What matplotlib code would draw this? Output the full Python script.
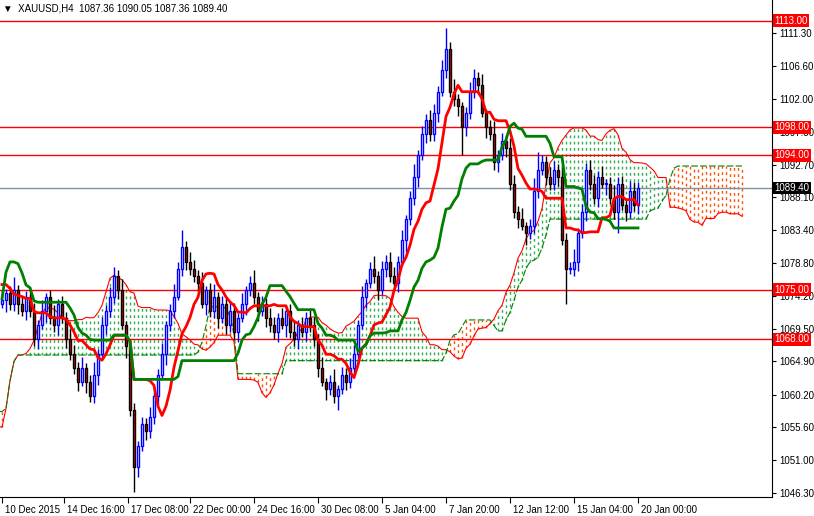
import matplotlib
matplotlib.use("Agg")
import matplotlib.pyplot as plt
import matplotlib.transforms as mt
import numpy as np
import pandas as pd

# 52 H4 closes before the visible window (feed the Ichimoku cloud only)
prior_closes = [1068,1066,1064,1062,1061,1063,1065,1064,1062,1060,1058,1057,1056,
1058,1060,1062,1061,1059,1057,1055,1053,1050,1048,
1047,1050,1055,1062,1070,1078,1083,1085,1082,1080,
1078,1076,1077,1075,1073,1074,1076,1078,1077,1075,
1076,1077,1078,1076,1075,1074,1073,1074,1073]
closes = [1073.5,1074.5,1073,1075,1073,1072,1074,1072,1068,1070,
1072,1074,1071,1070,1073,1071,1068,1066,1064,1062,
1064,1062,1060,1063,1066,1070,1072,1074,1077,1075,
1070,1067,1058,1050,1053,1056,1055,1057,1060,1063,
1066,1070,1072,1074,1078,1081,1079,1078,1077,1076,
1073,1075,1072,1074,1071,1073,1070,1072,1069,1071,
1073,1075,1076,1074,1072,1073,1071,1070,1069,1071,
1070,1072,1069,1068,1070,1069,1071,1070,1068,1064,
1062,1061,1062,1060,1061,1063,1062,1064,1066,1070,
1074,1076,1078,1077,1075,1078,1079,1077,1076,1079,
1082,1085,1088,1091,1094,1097,1099,1097,1100,1103,
1106,1109,1103,1102,1101,1098,1100,1103,1105,1104,
1100,1098,1097,1093,1094,1096,1095,1090,1086,1085,
1084,1083,1084,1089,1092,1093,1091,1090,1092,1091,
1082,1078,1078,1079,1083,1086,1092,1090,1088,1091,
1090,1090,1088,1086,1090,1087,1086,1089,1087,1089.4]
first_open = 1069.0
wick_up = [1.2,0.8,1.5,0.6,1.0,1.8,0.7,1.1,0.9,1.4]
wick_dn = [0.9,1.3,0.6,1.6,0.8,1.0,1.4,0.7,1.2,0.9]
big_wicks = {33:(1.0,3.5), 44:(1.0,0.5), 45:(2.5,1.0), 84:(0.5,2.0), 111:(3.0,1.0),
             115:(0.5,4.0), 141:(1.0,5.0), 134:(2.5,1.0), 154:(1.0,3.0)}
resist = [1113.00, 1098.00, 1094.00, 1075.00, 1068.00]
last_price = 1089.40
yticks = [1111.30,1106.60,1102.00,1097.30,1092.70,1088.10,1083.40,1078.80,1074.20,
          1069.50,1064.90,1060.20,1055.60,1051.00,1046.30]
date_labels = ["10 Dec 2015","14 Dec 16:00","17 Dec 08:00","22 Dec 00:00","24 Dec 16:00",
               "30 Dec 08:00","5 Jan 04:00","7 Jan 20:00","12 Jan 12:00","15 Jan 04:00","20 Jan 00:00"]
date_pos = [0,15.5,31.5,47,63,79,95,111,127,143,159]

plt.rcParams['font.family'] = ['Liberation Sans', 'DejaVu Sans']
FS = 7

npre = len(prior_closes)
allc = np.array(prior_closes + closes, dtype=float)
N = len(allc)
idx = np.arange(N) - npre
o = np.concatenate([[first_open], allc[:-1]])
hu = np.array([wick_up[i % 10] for i in range(N)])
ld = np.array([wick_dn[i % 10] for i in range(N)])
for k,(a,b) in big_wicks.items():
    hu[k+npre]=a; ld[k+npre]=b
h = np.maximum(o,allc)+hu
l = np.minimum(o,allc)-ld
H = pd.Series(h); L = pd.Series(l)
tenkan = ((H.rolling(9,min_periods=1).max()+L.rolling(9,min_periods=1).min())/2).values
kijun = ((H.rolling(26,min_periods=1).max()+L.rolling(26,min_periods=1).min())/2).values
spanA = (tenkan+kijun)/2
spanB = ((H.rolling(52,min_periods=1).max()+L.rolling(52,min_periods=1).min())/2).values
xs = idx+26
m = xs >= -1
xs, spanA, spanB = xs[m], spanA[m], spanB[m]

fig = plt.figure(figsize=(8.14,5.16), dpi=100)
ax = fig.add_axes([0,1-497/516,772/814,497/516])
ax.set_xlim(-0.5,192.5)
ax.set_ylim(1045.73,1115.96)

up = spanA >= spanB
lo = np.minimum(spanA, spanB); hi = np.maximum(spanA, spanB)
ax.vlines(xs[up], lo[up], hi[up], color='#30b050', lw=1, linestyles=(0,(2,2.5)))
ax.vlines(xs[~up], lo[~up], hi[~up], color='#ff5000', lw=1, linestyles=(0,(2,2.5)))
ax.plot(xs, spanA, color='red', lw=0.8)
ax.plot(xs, spanB, color='green', lw=0.8, ls=(0,(6,2)))

for y in resist:
    ax.axhline(y, color='red', lw=1)
ax.axhline(last_price, color='#8090a0', lw=1)

for j in range(npre, N):
    i = idx[j]
    if allc[j] >= o[j]:
        ax.vlines(i, l[j], h[j], color='blue', lw=1, zorder=3)
        ax.bar(i, max(allc[j]-o[j],0.15), bottom=o[j], width=0.6, color='white', edgecolor='blue', lw=1, zorder=4)
    else:
        ax.vlines(i, l[j], h[j], color='black', lw=1, zorder=3)
        ax.bar(i, o[j]-allc[j], bottom=allc[j], width=0.6, color='red', edgecolor='black', lw=1, zorder=4)

vis = idx >= 0
ax.plot(idx[vis], tenkan[vis], color='red', lw=2, zorder=5)
ax.plot(idx[vis], kijun[vis], color='green', lw=2, zorder=5)

ax.yaxis.tick_right()
ax.set_yticks(yticks)
ax.set_yticklabels([f"{v:.2f}" for v in yticks], fontsize=FS)
ax.tick_params(axis='y', length=3, pad=2)
ax.set_xticks(date_pos)
ax.set_xticklabels(date_labels, fontsize=FS, ha='left')
ax.tick_params(axis='x', length=4, pad=2)
off = mt.ScaledTranslation(2/72, 0, fig.dpi_scale_trans)
for lab in ax.get_xticklabels():
    lab.set_transform(lab.get_transform()+off)
for s in ['top','left']:
    ax.spines[s].set_visible(False)

for y in resist:
    ax.text(1.003, y, f"{y:.2f}", transform=ax.get_yaxis_transform(), color='white', fontsize=FS,
            va='center', ha='left', bbox=dict(boxstyle='square,pad=0.15', fc='red', ec='none'), zorder=10)
ax.text(1.003, last_price, f"{last_price:.2f}", transform=ax.get_yaxis_transform(), color='white', fontsize=FS,
        va='center', ha='left', bbox=dict(boxstyle='square,pad=0.15', fc='black', ec='none'), zorder=10)
ax.text(0.004, 0.992, "▼  XAUUSD,H4  1087.36 1090.05 1087.36 1089.40", transform=ax.transAxes,
        fontsize=FS, va='top', ha='left')
fig.savefig("out.png", dpi=100)
